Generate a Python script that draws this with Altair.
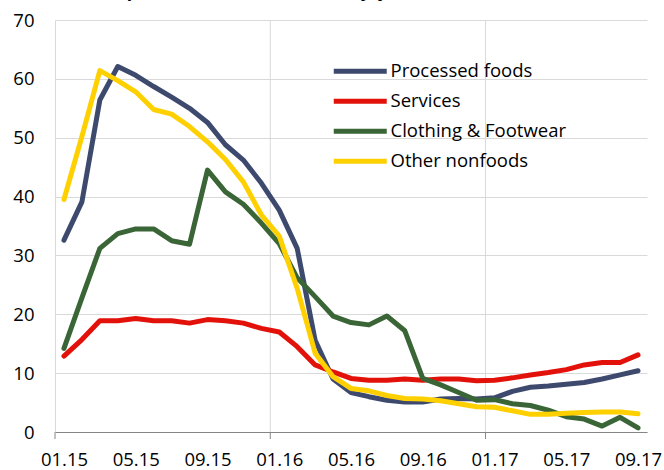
import altair as alt
import pandas as pd

months = ["01.15", "02.15", "03.15", "04.15", "05.15", "06.15", "07.15", "08.15",
          "09.15", "10.15", "11.15", "12.15", "01.16", "02.16", "03.16", "04.16",
          "05.16", "06.16", "07.16", "08.16", "09.16", "10.16", "11.16", "12.16",
          "01.17", "02.17", "03.17", "04.17", "05.17", "06.17", "07.17", "08.17",
          "09.17"]

processed_foods = [32.6, 39.1, 56.4, 62.1, 60.6, 58.7, 56.9, 55.0, 52.6, 48.8, 46.2,
                   42.3, 37.7, 31.2, 15.6, 9.0, 6.7, 6.0, 5.4, 5.1, 5.1, 5.6, 5.7,
                   5.6, 5.8, 6.9, 7.6, 7.8, 8.1, 8.4, 9.0, 9.7, 10.4]
services = [12.9, 15.7, 18.9, 18.9, 19.3, 18.9, 18.9, 18.5, 19.1, 18.9, 18.5,
            17.6, 17.0, 14.5, 11.4, 10.2, 9.1, 8.8, 8.8, 9.0, 8.8, 9.0, 9.0,
            8.7, 8.8, 9.2, 9.7, 10.1, 10.6, 11.4, 11.8, 11.8, 13.1]
clothing = [14.2, 22.8, 31.2, 33.7, 34.5, 34.5, 32.5, 31.9, 44.5, 40.8, 38.7,
            35.5, 32.0, 26.2, 23.0, 19.7, 18.6, 18.2, 19.7, 17.2, 9.1, 8.0, 6.7,
            5.4, 5.5, 4.8, 4.5, 3.7, 2.6, 2.2, 1.0, 2.5, 0.7]
other_nonfoods = [39.5, 50.2, 61.4, 59.7, 57.8, 54.8, 54.0, 51.9, 49.3, 46.3, 42.5,
                  36.9, 33.3, 24.4, 13.4, 9.4, 7.4, 7.0, 6.2, 5.7, 5.6, 5.3, 4.8,
                  4.3, 4.2, 3.6, 3.0, 3.0, 3.2, 3.3, 3.4, 3.4, 3.1]

series_names = ["Processed foods", "Services", "Clothing & Footwear", "Other nonfoods"]
series_colors = ["#3D4A6E", "#E2120B", "#3A6536", "#FFD000"]
series_values = [processed_foods, services, clothing, other_nonfoods]

tick_labels = months[::4]
year_starts = [0, 12, 24]
y_ticks = [0, 10, 20, 30, 40, 50, 60, 70]
title_text = "Consumer price inflation: core items, y/y"

FONT = "Open Sans"
FS = 18.5
W, H = 592, 412

rows = []
for name, vals in zip(series_names, series_values):
    for i, (m, v) in enumerate(zip(months, vals)):
        rows.append({"series": name, "month": m, "pos": i + 0.5, "value": v})
df = pd.DataFrame(rows)

xscale = alt.Scale(domain=[0, len(months)], nice=False, zero=False)
yscale = alt.Scale(domain=[0, 70], nice=False)

label_arr = "[" + ",".join("'" + t + "'" for t in tick_labels) + "]"

x_axis = alt.Axis(
    values=[i * 4 + 0.5 for i in range(len(tick_labels))],
    labelExpr=label_arr + "[floor(datum.value / 4)]",
    ticks=False,
    grid=False,
    domainColor="#868686",
    labelPadding=18,
    labelFlush=False,
    labelOverlap=False,
    title=None,
)
y_axis = alt.Axis(
    values=y_ticks,
    ticks=False,
    grid=True,
    gridColor="#d9d9d9",
    domainColor="#d9d9d9",
    labelPadding=21,
    title=None,
)

vgrid = alt.Chart(pd.DataFrame({"pos": year_starts[1:]})).mark_rule(
    color="#d9d9d9", strokeWidth=1
).encode(
    x=alt.X("pos:Q", scale=xscale, axis=x_axis),
    y=alt.value(0),
    y2=alt.value(H),
)

xticks = alt.Chart(pd.DataFrame({"pos": year_starts})).mark_rule(
    color="#868686", strokeWidth=1
).encode(
    x=alt.X("pos:Q", scale=xscale, axis=x_axis),
    y=alt.value(H),
    y2=alt.value(H + 7),
)

lines = alt.Chart(df).mark_line(
    strokeWidth=5, strokeCap="round", strokeJoin="round"
).encode(
    x=alt.X("pos:Q", scale=xscale, axis=x_axis),
    y=alt.Y("value:Q", scale=yscale, axis=y_axis),
    color=alt.Color(
        "series:N",
        sort=series_names,
        scale=alt.Scale(domain=series_names, range=series_colors),
        legend=alt.Legend(
            title=None,
            orient="none",
            legendX=296,
            legendY=42,
            symbolType="M-5.3,0H5.3",
            symbolStrokeWidth=5,
            symbolSize=100,
            labelFontSize=FS,
            labelFont=FONT,
            labelColor="#000000",
            labelLimit=300,
            rowPadding=9,
            labelOffset=21,
        ),
    ),
    order=alt.Order("pos:Q"),
)

title = alt.Chart(pd.DataFrame({"t": [title_text]})).mark_text(
    align="left", baseline="alphabetic", fontWeight="bold", fontSize=17.5, font=FONT,
    color="#000000"
).encode(
    x=alt.value(33 - 55),
    y=alt.value(-3 - 20),
    text="t:N",
)

chart = alt.layer(vgrid, xticks, lines, title).properties(
    width=W,
    height=H,
    autosize=alt.AutoSizeParams(type="none"),
    padding={"left": 55, "top": 20, "right": 17, "bottom": 38},
).configure_view(stroke=None).configure_axis(
    labelFont=FONT, labelFontSize=FS, labelColor="#000000"
)

chart.save("out.html", embed_options={"renderer": "svg", "actions": False})
